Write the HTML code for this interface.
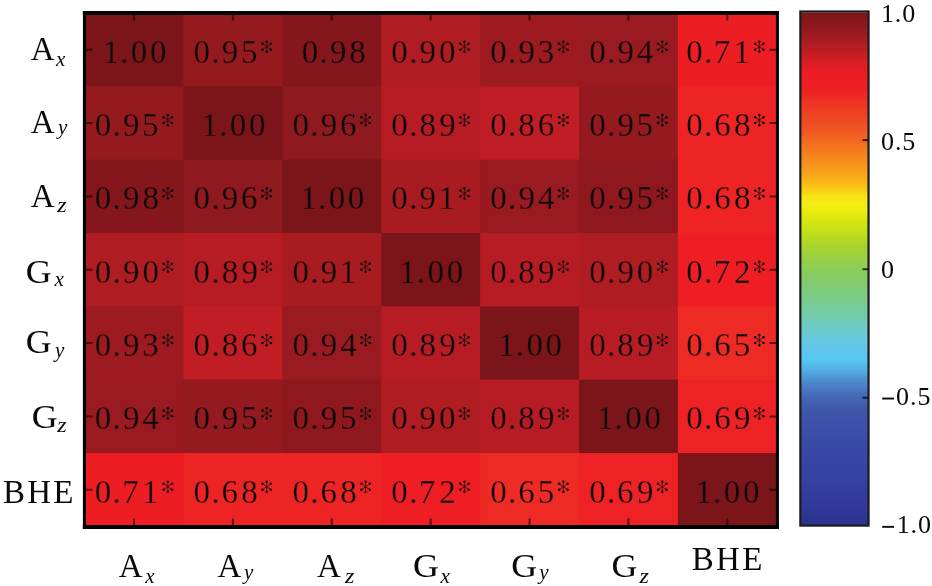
<!DOCTYPE html>
<html><head><meta charset="utf-8"><style>
html,body{margin:0;padding:0;background:#fff;width:932px;height:586px;overflow:hidden}
svg{display:block;will-change:transform}
text{font-family:"Liberation Serif",serif;fill:#0a0a0a}
.lb text{stroke:none}
</style></head><body>
<svg width="932" height="586" viewBox="0 0 932 586">

<g>
<rect x="84.55" y="13.07" width="100.39" height="74.83" fill="#7c1519"/>
<rect x="183.44" y="13.07" width="100.39" height="74.83" fill="#951a1f"/>
<rect x="282.33" y="13.07" width="100.39" height="74.83" fill="#85171c"/>
<rect x="381.22" y="13.07" width="100.39" height="74.83" fill="#af1c22"/>
<rect x="480.11" y="13.07" width="100.39" height="74.83" fill="#9c1a20"/>
<rect x="579.00" y="13.07" width="100.39" height="74.83" fill="#991a20"/>
<rect x="677.89" y="13.07" width="100.39" height="74.83" fill="#ed1d24"/>
<rect x="84.55" y="86.40" width="100.39" height="74.83" fill="#951a1f"/>
<rect x="183.44" y="86.40" width="100.39" height="74.83" fill="#7c1519"/>
<rect x="282.33" y="86.40" width="100.39" height="74.83" fill="#8e191f"/>
<rect x="381.22" y="86.40" width="100.39" height="74.83" fill="#b71c24"/>
<rect x="480.11" y="86.40" width="100.39" height="74.83" fill="#c11d24"/>
<rect x="579.00" y="86.40" width="100.39" height="74.83" fill="#951a1f"/>
<rect x="677.89" y="86.40" width="100.39" height="74.83" fill="#ee2424"/>
<rect x="84.55" y="159.73" width="100.39" height="74.83" fill="#85171c"/>
<rect x="183.44" y="159.73" width="100.39" height="74.83" fill="#8e191f"/>
<rect x="282.33" y="159.73" width="100.39" height="74.83" fill="#7c1519"/>
<rect x="381.22" y="159.73" width="100.39" height="74.83" fill="#a81b21"/>
<rect x="480.11" y="159.73" width="100.39" height="74.83" fill="#991a20"/>
<rect x="579.00" y="159.73" width="100.39" height="74.83" fill="#8f181e"/>
<rect x="677.89" y="159.73" width="100.39" height="74.83" fill="#ee2424"/>
<rect x="84.55" y="233.06" width="100.39" height="74.83" fill="#af1c22"/>
<rect x="183.44" y="233.06" width="100.39" height="74.83" fill="#b71c24"/>
<rect x="282.33" y="233.06" width="100.39" height="74.83" fill="#a81b21"/>
<rect x="381.22" y="233.06" width="100.39" height="74.83" fill="#7c1519"/>
<rect x="480.11" y="233.06" width="100.39" height="74.83" fill="#b71c24"/>
<rect x="579.00" y="233.06" width="100.39" height="74.83" fill="#af1c22"/>
<rect x="677.89" y="233.06" width="100.39" height="74.83" fill="#ee1e24"/>
<rect x="84.55" y="306.39" width="100.39" height="74.83" fill="#9c1a20"/>
<rect x="183.44" y="306.39" width="100.39" height="74.83" fill="#c11d24"/>
<rect x="282.33" y="306.39" width="100.39" height="74.83" fill="#991a20"/>
<rect x="381.22" y="306.39" width="100.39" height="74.83" fill="#b71c24"/>
<rect x="480.11" y="306.39" width="100.39" height="74.83" fill="#7c1519"/>
<rect x="579.00" y="306.39" width="100.39" height="74.83" fill="#b71c24"/>
<rect x="677.89" y="306.39" width="100.39" height="74.83" fill="#ee2a24"/>
<rect x="84.55" y="379.72" width="100.39" height="74.83" fill="#991a20"/>
<rect x="183.44" y="379.72" width="100.39" height="74.83" fill="#951a1f"/>
<rect x="282.33" y="379.72" width="100.39" height="74.83" fill="#8f181e"/>
<rect x="381.22" y="379.72" width="100.39" height="74.83" fill="#af1c22"/>
<rect x="480.11" y="379.72" width="100.39" height="74.83" fill="#b71c24"/>
<rect x="579.00" y="379.72" width="100.39" height="74.83" fill="#7c1519"/>
<rect x="677.89" y="379.72" width="100.39" height="74.83" fill="#ee2224"/>
<rect x="84.55" y="453.05" width="100.39" height="74.83" fill="#ed1d24"/>
<rect x="183.44" y="453.05" width="100.39" height="74.83" fill="#ee2424"/>
<rect x="282.33" y="453.05" width="100.39" height="74.83" fill="#ee2424"/>
<rect x="381.22" y="453.05" width="100.39" height="74.83" fill="#ee1e24"/>
<rect x="480.11" y="453.05" width="100.39" height="74.83" fill="#ee2a24"/>
<rect x="579.00" y="453.05" width="100.39" height="74.83" fill="#ee2224"/>
<rect x="677.89" y="453.05" width="100.39" height="74.83" fill="#7c1519"/>
</g>
<defs><g id="ast"><path d="M0 -5.1L0 5.1" stroke="#0a0a0a" stroke-width="0.65"/><path d="M4.2 -2.9L-4.2 2.9" stroke="#0a0a0a" stroke-width="0.65"/><path d="M4.2 2.9L-4.2 -2.9" stroke="#0a0a0a" stroke-width="0.65"/><circle cx="0" cy="-5.1" r="1.25" fill="#0a0a0a"/><circle cx="4.2" cy="-2.9" r="1.25" fill="#0a0a0a"/><circle cx="4.2" cy="2.9" r="1.25" fill="#0a0a0a"/><circle cx="0" cy="5.1" r="1.25" fill="#0a0a0a"/><circle cx="-4.2" cy="2.9" r="1.25" fill="#0a0a0a"/><circle cx="-4.2" cy="-2.9" r="1.25" fill="#0a0a0a"/></g></defs>
<text x="102.65 120.10 130.85 150.05" y="62.73" font-size="33" stroke="#7c1519" stroke-width="0.3">1.00</text>
<text x="193.59 211.39 221.84 240.99" y="62.73" font-size="33" stroke="#951a1f" stroke-width="0.3">0.95</text>
<use href="#ast" x="266.69" y="46.77"/>
<text x="301.63 319.48 329.98 349.33" y="62.73" font-size="33" stroke="#85171c" stroke-width="0.3">0.98</text>
<text x="391.37 409.17 419.62 439.07" y="62.73" font-size="33" stroke="#af1c22" stroke-width="0.3">0.90</text>
<use href="#ast" x="464.47" y="46.77"/>
<text x="490.26 508.06 518.51 537.81" y="62.73" font-size="33" stroke="#9c1a20" stroke-width="0.3">0.93</text>
<use href="#ast" x="563.36" y="46.77"/>
<text x="589.15 606.95 617.40 636.80" y="62.73" font-size="33" stroke="#991a20" stroke-width="0.3">0.94</text>
<use href="#ast" x="662.25" y="46.77"/>
<text x="686.24 704.04 713.74 733.49" y="62.73" font-size="33" stroke="#ed1d24" stroke-width="0.3">0.71</text>
<use href="#ast" x="759.34" y="46.77"/>
<text x="94.70 112.50 122.95 142.10" y="136.06" font-size="33" stroke="#951a1f" stroke-width="0.3">0.95</text>
<use href="#ast" x="167.80" y="120.10"/>
<text x="201.54 218.99 229.74 248.94" y="136.06" font-size="33" stroke="#7c1519" stroke-width="0.3">1.00</text>
<text x="292.48 310.28 320.73 339.98" y="136.06" font-size="33" stroke="#8e191f" stroke-width="0.3">0.96</text>
<use href="#ast" x="365.58" y="120.10"/>
<text x="391.37 409.17 419.47 439.22" y="136.06" font-size="33" stroke="#b71c24" stroke-width="0.3">0.89</text>
<use href="#ast" x="464.47" y="120.10"/>
<text x="490.26 508.06 518.36 537.76" y="136.06" font-size="33" stroke="#c11d24" stroke-width="0.3">0.86</text>
<use href="#ast" x="563.36" y="120.10"/>
<text x="589.15 606.95 617.40 636.55" y="136.06" font-size="33" stroke="#951a1f" stroke-width="0.3">0.95</text>
<use href="#ast" x="662.25" y="120.10"/>
<text x="686.24 704.04 714.14 733.94" y="136.06" font-size="33" stroke="#ee2424" stroke-width="0.3">0.68</text>
<use href="#ast" x="759.34" y="120.10"/>
<text x="94.70 112.50 122.95 142.40" y="209.39" font-size="33" stroke="#85171c" stroke-width="0.3">0.98</text>
<use href="#ast" x="167.80" y="193.43"/>
<text x="193.59 211.39 221.84 241.09" y="209.39" font-size="33" stroke="#8e191f" stroke-width="0.3">0.96</text>
<use href="#ast" x="266.69" y="193.43"/>
<text x="300.43 317.88 328.63 347.83" y="209.39" font-size="33" stroke="#7c1519" stroke-width="0.3">1.00</text>
<text x="391.37 409.17 419.62 438.62" y="209.39" font-size="33" stroke="#a81b21" stroke-width="0.3">0.91</text>
<use href="#ast" x="464.47" y="193.43"/>
<text x="490.26 508.06 518.51 537.91" y="209.39" font-size="33" stroke="#991a20" stroke-width="0.3">0.94</text>
<use href="#ast" x="563.36" y="193.43"/>
<text x="589.15 606.95 617.40 636.55" y="209.39" font-size="33" stroke="#8f181e" stroke-width="0.3">0.95</text>
<use href="#ast" x="662.25" y="193.43"/>
<text x="686.24 704.04 714.14 733.94" y="209.39" font-size="33" stroke="#ee2424" stroke-width="0.3">0.68</text>
<use href="#ast" x="759.34" y="193.43"/>
<text x="94.70 112.50 122.95 142.40" y="282.72" font-size="33" stroke="#af1c22" stroke-width="0.3">0.90</text>
<use href="#ast" x="167.80" y="266.76"/>
<text x="193.59 211.39 221.69 241.44" y="282.72" font-size="33" stroke="#b71c24" stroke-width="0.3">0.89</text>
<use href="#ast" x="266.69" y="266.76"/>
<text x="292.48 310.28 320.73 339.73" y="282.72" font-size="33" stroke="#a81b21" stroke-width="0.3">0.91</text>
<use href="#ast" x="365.58" y="266.76"/>
<text x="399.32 416.77 427.52 446.72" y="282.72" font-size="33" stroke="#7c1519" stroke-width="0.3">1.00</text>
<text x="490.26 508.06 518.36 538.11" y="282.72" font-size="33" stroke="#b71c24" stroke-width="0.3">0.89</text>
<use href="#ast" x="563.36" y="266.76"/>
<text x="589.15 606.95 617.40 636.85" y="282.72" font-size="33" stroke="#af1c22" stroke-width="0.3">0.90</text>
<use href="#ast" x="662.25" y="266.76"/>
<text x="686.24 704.04 713.74 734.09" y="282.72" font-size="33" stroke="#ee1e24" stroke-width="0.3">0.72</text>
<use href="#ast" x="759.34" y="266.76"/>
<text x="94.70 112.50 122.95 142.25" y="356.06" font-size="33" stroke="#9c1a20" stroke-width="0.3">0.93</text>
<use href="#ast" x="167.80" y="340.09"/>
<text x="193.59 211.39 221.69 241.09" y="356.06" font-size="33" stroke="#c11d24" stroke-width="0.3">0.86</text>
<use href="#ast" x="266.69" y="340.09"/>
<text x="292.48 310.28 320.73 340.13" y="356.06" font-size="33" stroke="#991a20" stroke-width="0.3">0.94</text>
<use href="#ast" x="365.58" y="340.09"/>
<text x="391.37 409.17 419.47 439.22" y="356.06" font-size="33" stroke="#b71c24" stroke-width="0.3">0.89</text>
<use href="#ast" x="464.47" y="340.09"/>
<text x="498.21 515.66 526.41 545.61" y="356.06" font-size="33" stroke="#7c1519" stroke-width="0.3">1.00</text>
<text x="589.15 606.95 617.25 637.00" y="356.06" font-size="33" stroke="#b71c24" stroke-width="0.3">0.89</text>
<use href="#ast" x="662.25" y="340.09"/>
<text x="686.24 704.04 714.14 733.64" y="356.06" font-size="33" stroke="#ee2a24" stroke-width="0.3">0.65</text>
<use href="#ast" x="759.34" y="340.09"/>
<text x="94.70 112.50 122.95 142.35" y="429.38" font-size="33" stroke="#991a20" stroke-width="0.3">0.94</text>
<use href="#ast" x="167.80" y="413.42"/>
<text x="193.59 211.39 221.84 240.99" y="429.38" font-size="33" stroke="#951a1f" stroke-width="0.3">0.95</text>
<use href="#ast" x="266.69" y="413.42"/>
<text x="292.48 310.28 320.73 339.88" y="429.38" font-size="33" stroke="#8f181e" stroke-width="0.3">0.95</text>
<use href="#ast" x="365.58" y="413.42"/>
<text x="391.37 409.17 419.62 439.07" y="429.38" font-size="33" stroke="#af1c22" stroke-width="0.3">0.90</text>
<use href="#ast" x="464.47" y="413.42"/>
<text x="490.26 508.06 518.36 538.11" y="429.38" font-size="33" stroke="#b71c24" stroke-width="0.3">0.89</text>
<use href="#ast" x="563.36" y="413.42"/>
<text x="597.10 614.55 625.30 644.50" y="429.38" font-size="33" stroke="#7c1519" stroke-width="0.3">1.00</text>
<text x="686.24 704.04 714.14 734.09" y="429.38" font-size="33" stroke="#ee2224" stroke-width="0.3">0.69</text>
<use href="#ast" x="759.34" y="413.42"/>
<text x="94.70 112.50 122.20 141.95" y="502.71" font-size="33" stroke="#ed1d24" stroke-width="0.3">0.71</text>
<use href="#ast" x="167.80" y="486.75"/>
<text x="193.59 211.39 221.49 241.29" y="502.71" font-size="33" stroke="#ee2424" stroke-width="0.3">0.68</text>
<use href="#ast" x="266.69" y="486.75"/>
<text x="292.48 310.28 320.38 340.18" y="502.71" font-size="33" stroke="#ee2424" stroke-width="0.3">0.68</text>
<use href="#ast" x="365.58" y="486.75"/>
<text x="391.37 409.17 418.87 439.22" y="502.71" font-size="33" stroke="#ee1e24" stroke-width="0.3">0.72</text>
<use href="#ast" x="464.47" y="486.75"/>
<text x="490.26 508.06 518.16 537.66" y="502.71" font-size="33" stroke="#ee2a24" stroke-width="0.3">0.65</text>
<use href="#ast" x="563.36" y="486.75"/>
<text x="589.15 606.95 617.05 637.00" y="502.71" font-size="33" stroke="#ee2224" stroke-width="0.3">0.69</text>
<use href="#ast" x="662.25" y="486.75"/>
<text x="695.59 713.04 723.79 742.99" y="502.71" font-size="33" stroke="#7c1519" stroke-width="0.3">1.00</text>
<path d="M134.00 14v6.5 M134.00 525v-6.5 M86 49.73h6.5 M776 49.73h-6.5 M232.88 14v6.5 M232.88 525v-6.5 M86 123.06h6.5 M776 123.06h-6.5 M331.77 14v6.5 M331.77 525v-6.5 M86 196.39h6.5 M776 196.39h-6.5 M430.67 14v6.5 M430.67 525v-6.5 M86 269.72h6.5 M776 269.72h-6.5 M529.55 14v6.5 M529.55 525v-6.5 M86 343.06h6.5 M776 343.06h-6.5 M628.44 14v6.5 M628.44 525v-6.5 M86 416.38h6.5 M776 416.38h-6.5 M727.33 14v6.5 M727.33 525v-6.5 M86 489.71h6.5 M776 489.71h-6.5" stroke="rgba(0,0,0,0.6)" stroke-width="2" fill="none"/>
<g fill="#000"><rect x="82.9" y="11" width="696" height="3.9"/><rect x="82.9" y="525" width="696" height="4"/><rect x="82.9" y="11" width="3.1" height="518"/><rect x="775.9" y="11" width="3" height="518"/></g>
<g class="lb">
<text x="30.80" y="60.40" font-size="33">A</text><text x="56.09" y="65.74" font-size="21" font-style="italic">x</text>
<text x="30.80" y="132.80" font-size="33">A</text><text x="58.02" y="134.34" font-size="21" font-style="italic">y</text>
<text x="30.80" y="207.40" font-size="33">A</text><text transform="translate(57.32 211.94) scale(1.15 1)" font-size="21" font-style="italic">z</text>
<text transform="translate(25.78 283.20) scale(1.085 1)" font-size="33">G</text><text x="54.39" y="285.74" font-size="21" font-style="italic">x</text>
<text transform="translate(25.78 353.20) scale(1.085 1)" font-size="33">G</text><text x="55.02" y="356.94" font-size="21" font-style="italic">y</text>
<text transform="translate(31.78 427.60) scale(1.085 1)" font-size="33">G</text><text transform="translate(57.32 431.54) scale(1.15 1)" font-size="21" font-style="italic">z</text>
<text x="2.90" y="502.7" font-size="33" letter-spacing="2.3">BHE</text>
<text x="118.70" y="576.80" font-size="33">A</text><text x="145.29" y="582.64" font-size="21" font-style="italic">x</text>
<text x="217.60" y="576.80" font-size="33">A</text><text x="243.92" y="578.74" font-size="21" font-style="italic">y</text>
<text x="316.90" y="576.80" font-size="33">A</text><text transform="translate(344.92 582.64) scale(1.15 1)" font-size="21" font-style="italic">z</text>
<text transform="translate(412.98 576.60) scale(1.085 1)" font-size="33">G</text><text x="440.59" y="582.64" font-size="21" font-style="italic">x</text>
<text transform="translate(511.18 576.60) scale(1.085 1)" font-size="33">G</text><text x="539.32" y="578.74" font-size="21" font-style="italic">y</text>
<text transform="translate(611.58 576.60) scale(1.085 1)" font-size="33">G</text><text transform="translate(639.52 582.64) scale(1.15 1)" font-size="21" font-style="italic">z</text>
<text x="691.70" y="569.8" font-size="33" letter-spacing="2.3">BHE</text>
</g>
<defs><linearGradient id="g" x1="0" y1="0" x2="0" y2="1"><stop offset="0.0010" stop-color="#7c1619"/><stop offset="0.0341" stop-color="#941a20"/><stop offset="0.0634" stop-color="#b01c22"/><stop offset="0.0926" stop-color="#d41e25"/><stop offset="0.1160" stop-color="#ec1c24"/><stop offset="0.1511" stop-color="#ed2024"/><stop offset="0.1803" stop-color="#ee3623"/><stop offset="0.2096" stop-color="#ef4a23"/><stop offset="0.2349" stop-color="#f05a22"/><stop offset="0.2680" stop-color="#f47b1d"/><stop offset="0.3070" stop-color="#f89c1b"/><stop offset="0.3363" stop-color="#fbbd14"/><stop offset="0.3596" stop-color="#f6e614"/><stop offset="0.3752" stop-color="#f4ee12"/><stop offset="0.3947" stop-color="#e2ea0e"/><stop offset="0.4240" stop-color="#c6e015"/><stop offset="0.4532" stop-color="#acd42a"/><stop offset="0.4786" stop-color="#9ad043"/><stop offset="0.5019" stop-color="#8ccc5a"/><stop offset="0.5214" stop-color="#84ca68"/><stop offset="0.5409" stop-color="#7fcb7a"/><stop offset="0.5702" stop-color="#77cc96"/><stop offset="0.5994" stop-color="#70ccb4"/><stop offset="0.6287" stop-color="#6acad6"/><stop offset="0.6540" stop-color="#5fc7ea"/><stop offset="0.6774" stop-color="#56c7f2"/><stop offset="0.7008" stop-color="#52a9e0"/><stop offset="0.7164" stop-color="#4d8fd0"/><stop offset="0.7359" stop-color="#4876c0"/><stop offset="0.7554" stop-color="#4262b2"/><stop offset="0.7749" stop-color="#3e56aa"/><stop offset="0.8041" stop-color="#3e50a9"/><stop offset="0.8528" stop-color="#3848a6"/><stop offset="0.9113" stop-color="#3442a2"/><stop offset="0.9698" stop-color="#2f3897"/><stop offset="0.9990" stop-color="#2b3290"/></linearGradient></defs>
<rect x="801" y="12.5" width="67.5" height="513" fill="url(#g)"/>
<rect x="800.35" y="11.5" width="68.2" height="514.1" fill="none" stroke="#1a1c1e" stroke-width="2.2"/>
<path d="M868 140.10h-5.5" stroke="rgba(0,0,0,0.75)" stroke-width="2"/>
<path d="M868 269.20h-5.5" stroke="rgba(0,0,0,0.75)" stroke-width="2"/>
<path d="M868 397.70h-5.5" stroke="rgba(0,0,0,0.75)" stroke-width="2"/>
<text x="880.90" y="22.00" font-size="26" letter-spacing="0.9">1.0</text>
<text x="881.00" y="149.70" font-size="26" letter-spacing="0.9">0.5</text>
<text x="881.00" y="277.60" font-size="26" letter-spacing="0.9">0</text>
<rect x="882.2" y="397.6" width="11.9" height="1.9" fill="#0a0a0a"/>
<rect x="882.2" y="525.9" width="11.9" height="1.9" fill="#0a0a0a"/>
<text x="896.1" y="405.00" font-size="26" letter-spacing="0.9">0.5</text>
<text x="896.7" y="532.80" font-size="26" letter-spacing="0.9">1.0</text>
</svg></body></html>
